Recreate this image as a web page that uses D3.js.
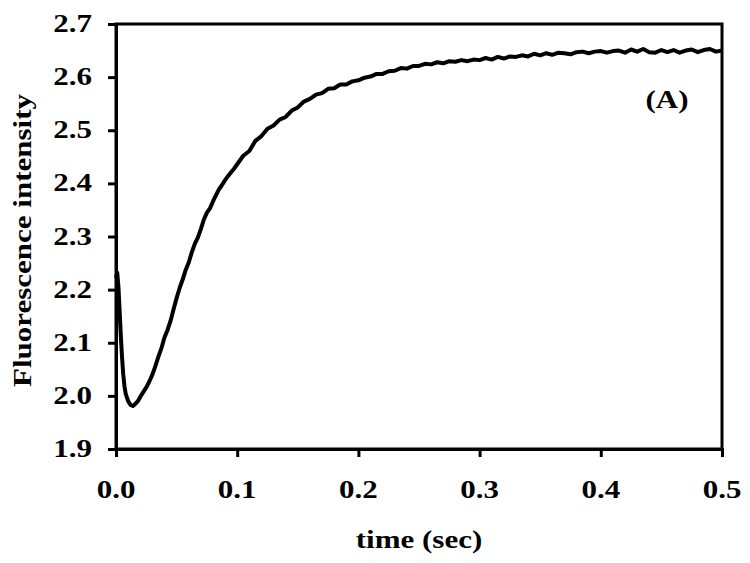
<!DOCTYPE html>
<html>
<head>
<meta charset="utf-8">
<script src="https://cdn.jsdelivr.net/npm/d3@7"></script>
<style>
  body { margin: 0; background: #fff; }
  text { font-family: "Liberation Serif", "Times New Roman", serif; font-weight: bold; fill: #000; }
</style>
</head>
<body>
<div id="chart"></div>
<script>
// time values (sec)
var times = [
  0.000, 0.001, 0.002, 0.003, 0.004, 0.005, 0.006, 0.007, 0.008, 0.010,
  0.012, 0.014, 0.016, 0.018, 0.020, 0.0225, 0.025, 0.0275, 0.030, 0.0325,
  0.035, 0.0375, 0.040, 0.0425, 0.045, 0.0475, 0.050, 0.0525, 0.055, 0.0575,
  0.060, 0.0625, 0.065, 0.0675, 0.070, 0.0725, 0.075, 0.0775, 0.080, 0.0825,
  0.085, 0.0875, 0.090, 0.0925, 0.095, 0.0975,
  0.100, 0.105, 0.110, 0.115, 0.120, 0.125, 0.130, 0.135, 0.140, 0.145,
  0.150, 0.155, 0.160, 0.165, 0.170, 0.175, 0.180, 0.185, 0.190, 0.195,
  0.200, 0.205, 0.210, 0.215, 0.220, 0.225, 0.230, 0.235, 0.240, 0.245,
  0.250, 0.255, 0.260, 0.265, 0.270, 0.275, 0.280, 0.285, 0.290, 0.295,
  0.300, 0.305, 0.310, 0.315, 0.320, 0.325, 0.330, 0.335, 0.340, 0.345,
  0.350, 0.355, 0.360, 0.365, 0.370, 0.375, 0.380, 0.385, 0.390, 0.395,
  0.400, 0.405, 0.410, 0.415, 0.420, 0.425, 0.430, 0.435, 0.440, 0.445,
  0.450, 0.455, 0.460, 0.465, 0.470, 0.475, 0.480, 0.485, 0.490, 0.495,
  0.500
];
// fluorescence intensity
var intensity = [
  2.222, 2.232, 2.205, 2.160, 2.112, 2.072, 2.040, 2.018, 2.004, 1.990,
  1.983, 1.981, 1.985, 1.990, 1.998, 2.007, 2.016, 2.027, 2.040, 2.056,
  2.074, 2.090, 2.110, 2.124, 2.141, 2.163, 2.184, 2.203, 2.219, 2.237,
  2.251, 2.270, 2.286, 2.298, 2.314, 2.332, 2.345, 2.353, 2.366, 2.378,
  2.389, 2.397, 2.406, 2.414, 2.421, 2.428,
  2.436, 2.452, 2.461, 2.480, 2.489, 2.503, 2.509, 2.520, 2.525, 2.537,
  2.543, 2.554, 2.559, 2.567, 2.570, 2.578, 2.579, 2.586, 2.586, 2.592,
  2.594, 2.599, 2.601, 2.606, 2.606, 2.611, 2.612, 2.617, 2.616, 2.621,
  2.621, 2.625, 2.624, 2.628, 2.626, 2.630, 2.629, 2.632, 2.630, 2.633,
  2.632, 2.636, 2.633, 2.638, 2.635, 2.639, 2.638, 2.641, 2.639, 2.644,
  2.641, 2.645, 2.642, 2.646, 2.645, 2.643, 2.647, 2.648, 2.645, 2.648,
  2.649, 2.646, 2.649, 2.650, 2.646, 2.652, 2.648, 2.653, 2.647, 2.646,
  2.651, 2.647, 2.651, 2.646, 2.650, 2.652, 2.647, 2.651, 2.653, 2.648,
  2.650
];
var xTicks = [0.0, 0.1, 0.2, 0.3, 0.4, 0.5];
var yTicks = [1.9, 2.0, 2.1, 2.2, 2.3, 2.4, 2.5, 2.6, 2.7];

var w = 750, h = 563;
var margin = {top: 24, right: 28, bottom: 114, left: 116};
var iw = w - margin.left - margin.right;
var ih = h - margin.top - margin.bottom;
var fs = 31;      // font size
var squash = 0.8; // the original text is flattened vertically

var svg = d3.select("#chart").append("svg")
  .attr("width", w)
  .attr("height", h);

var g = svg.append("g")
  .attr("transform", "translate(" + margin.left + "," + margin.top + ")");

var x = d3.scaleLinear().domain([0, 0.5]).range([0, iw]);
var y = d3.scaleLinear().domain([1.9, 2.7]).range([ih, 0]);

// frame
g.append("rect")
  .attr("x", 0).attr("y", 0)
  .attr("width", iw).attr("height", ih)
  .attr("fill", "none")
  .attr("stroke", "#000")
  .attr("stroke-width", 3);

// trace
var data = times.map(function(t, i){ return {t: t, v: intensity[i]}; });
var line = d3.line()
  .x(function(d){ return x(d.t); })
  .y(function(d){ return y(d.v); });

g.append("path")
  .datum(data)
  .attr("d", line)
  .attr("fill", "none")
  .attr("stroke", "#000")
  .attr("stroke-width", 4)
  .attr("stroke-linejoin", "round");

// axes (lines + ticks only, labels drawn below)
var xAxis = g.append("g")
  .attr("transform", "translate(0," + ih + ")")
  .call(d3.axisBottom(x).tickValues(xTicks).tickSize(8).tickFormat(""));

var yAxis = g.append("g")
  .call(d3.axisLeft(y).tickValues(yTicks).tickSize(8).tickFormat(""));

[xAxis, yAxis].forEach(function(a){
  a.select(".domain").attr("stroke-width", 3);
  a.selectAll(".tick line").attr("stroke-width", 3);
});

var fmt = d3.format(".1f");

g.selectAll(".xlab")
  .data(xTicks)
  .enter()
  .append("text")
  .attr("class", "xlab")
  .attr("transform", function(d){ return "translate(" + x(d) + "," + (ih + 49) + ") scale(1," + squash + ")"; })
  .attr("text-anchor", "middle")
  .attr("font-size", fs + "px")
  .text(fmt);

g.selectAll(".ylab")
  .data(yTicks)
  .enter()
  .append("text")
  .attr("class", "ylab")
  .attr("transform", function(d){ return "translate(-24," + (y(d) + 8) + ") scale(1," + squash + ")"; })
  .attr("text-anchor", "end")
  .attr("font-size", fs + "px")
  .text(fmt);

// axis titles
svg.append("text")
  .attr("transform", "translate(" + (margin.left + iw / 2) + ",548) scale(1," + squash + ")")
  .attr("text-anchor", "middle")
  .attr("font-size", fs + "px")
  .text("time (sec)");

svg.append("text")
  .attr("transform", "translate(31," + (margin.top + ih / 2 + 4) + ") rotate(-90) scale(1," + squash + ")")
  .attr("text-anchor", "middle")
  .attr("font-size", fs + "px")
  .text("Fluorescence intensity");

// panel label
svg.append("text")
  .attr("transform", "translate(667,108) scale(1," + squash + ")")
  .attr("text-anchor", "middle")
  .attr("font-size", fs + "px")
  .text("(A)");
</script>
</body>
</html>
